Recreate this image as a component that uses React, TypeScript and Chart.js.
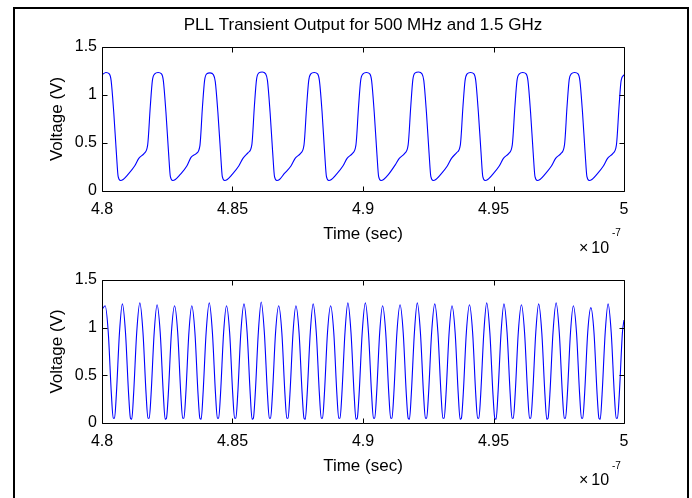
import React, { useEffect, useRef } from "react";
import { Chart, registerables } from "chart.js";

Chart.register(...registerables);

const FONT = "'Liberation Sans', Arial, Helvetica, sans-serif";

const titleText = "PLL Transient Output for 500 MHz and 1.5 GHz";
const xLabel = "Time (sec)";
const yLabel = "Voltage (V)";
const exponentBase = "×";
const exponentMantissa = "10";
const exponentPower = "-7";

const xTickValues = [4.8, 4.85, 4.9, 4.95, 5];
const yTickValues = [0, 0.5, 1, 1.5];

// 500 MHz output (time in units of 1e-7 s, voltage in V)
const topTime = [
  4.8000, 4.8015, 4.8028, 4.8035, 4.8045, 4.8055, 4.8062, 4.8071, 4.8081, 4.8099, 4.8125, 4.8141, 4.8161, 4.8175, 4.8185, 4.8193,
  4.8202, 4.8215, 4.8228, 4.8235, 4.8245, 4.8255, 4.8262, 4.8271, 4.8281, 4.8299, 4.8325, 4.8341, 4.8361, 4.8375, 4.8385, 4.8393,
  4.8401, 4.8414, 4.8427, 4.8434, 4.8444, 4.8454, 4.8461, 4.8470, 4.8480, 4.8498, 4.8524, 4.8540, 4.8560, 4.8574, 4.8584, 4.8592,
  4.8601, 4.8614, 4.8627, 4.8634, 4.8644, 4.8654, 4.8661, 4.8670, 4.8680, 4.8698, 4.8724, 4.8740, 4.8760, 4.8774, 4.8784, 4.8792,
  4.8800, 4.8813, 4.8826, 4.8833, 4.8843, 4.8853, 4.8860, 4.8869, 4.8879, 4.8897, 4.8923, 4.8939, 4.8959, 4.8973, 4.8983, 4.8991,
  4.9000, 4.9013, 4.9026, 4.9033, 4.9043, 4.9053, 4.9060, 4.9069, 4.9079, 4.9097, 4.9123, 4.9139, 4.9159, 4.9173, 4.9183, 4.9191,
  4.9200, 4.9213, 4.9226, 4.9233, 4.9243, 4.9253, 4.9260, 4.9269, 4.9279, 4.9297, 4.9323, 4.9339, 4.9359, 4.9373, 4.9383, 4.9391,
  4.9399, 4.9412, 4.9425, 4.9432, 4.9442, 4.9452, 4.9459, 4.9468, 4.9478, 4.9496, 4.9522, 4.9538, 4.9558, 4.9572, 4.9582, 4.9590,
  4.9599, 4.9612, 4.9625, 4.9632, 4.9642, 4.9652, 4.9659, 4.9668, 4.9678, 4.9696, 4.9722, 4.9738, 4.9758, 4.9772, 4.9782, 4.9790,
  4.9798, 4.9811, 4.9824, 4.9831, 4.9841, 4.9851, 4.9858, 4.9867, 4.9877, 4.9895, 4.9921, 4.9937, 4.9957, 4.9971, 4.9981, 4.9989,
  5.0000,
];
const topVolt = [
  1.21, 1.235, 1.22, 1.15, 0.82, 0.40, 0.15, 0.11, 0.12, 0.17, 0.26, 0.34, 0.39, 0.48, 0.88, 1.15,
  1.22, 1.235, 1.22, 1.15, 0.82, 0.40, 0.15, 0.11, 0.12, 0.17, 0.26, 0.35, 0.39, 0.47, 0.88, 1.15,
  1.22, 1.23, 1.21, 1.14, 0.82, 0.41, 0.15, 0.11, 0.12, 0.17, 0.26, 0.34, 0.40, 0.48, 0.89, 1.16,
  1.23, 1.24, 1.22, 1.15, 0.82, 0.40, 0.15, 0.11, 0.12, 0.18, 0.26, 0.34, 0.39, 0.48, 0.88, 1.15,
  1.22, 1.235, 1.22, 1.15, 0.83, 0.40, 0.15, 0.11, 0.12, 0.17, 0.26, 0.34, 0.39, 0.48, 0.88, 1.15,
  1.22, 1.235, 1.22, 1.15, 0.82, 0.40, 0.15, 0.11, 0.12, 0.17, 0.27, 0.34, 0.39, 0.48, 0.88, 1.16,
  1.23, 1.24, 1.22, 1.15, 0.82, 0.40, 0.15, 0.11, 0.12, 0.17, 0.26, 0.34, 0.40, 0.48, 0.88, 1.15,
  1.22, 1.235, 1.22, 1.15, 0.82, 0.41, 0.15, 0.11, 0.12, 0.17, 0.26, 0.34, 0.39, 0.48, 0.88, 1.15,
  1.22, 1.235, 1.22, 1.15, 0.82, 0.40, 0.15, 0.11, 0.12, 0.17, 0.26, 0.34, 0.39, 0.48, 0.89, 1.16,
  1.22, 1.235, 1.22, 1.15, 0.82, 0.40, 0.15, 0.11, 0.12, 0.17, 0.26, 0.34, 0.39, 0.48, 0.88, 1.15,
  1.21,
];

// 1.5 GHz output (time in units of 1e-7 s, voltage in V)
const bottomTime = [
  4.8000,
  4.8012, 4.8024, 4.8036, 4.8043, 4.8048, 4.8055, 4.8067,
  4.8078, 4.8090, 4.8102, 4.8109, 4.8114, 4.8121, 4.8133,
  4.8145, 4.8157, 4.8169, 4.8176, 4.8181, 4.8188, 4.8200,
  4.8211, 4.8223, 4.8235, 4.8242, 4.8247, 4.8254, 4.8266,
  4.8278, 4.8290, 4.8302, 4.8309, 4.8314, 4.8321, 4.8333,
  4.8344, 4.8356, 4.8368, 4.8375, 4.8380, 4.8387, 4.8399,
  4.8411, 4.8423, 4.8435, 4.8442, 4.8447, 4.8454, 4.8466,
  4.8477, 4.8489, 4.8501, 4.8508, 4.8513, 4.8520, 4.8532,
  4.8544, 4.8556, 4.8568, 4.8575, 4.8580, 4.8587, 4.8599,
  4.8610, 4.8622, 4.8634, 4.8641, 4.8646, 4.8653, 4.8665,
  4.8677, 4.8689, 4.8701, 4.8708, 4.8713, 4.8720, 4.8732,
  4.8743, 4.8755, 4.8767, 4.8774, 4.8779, 4.8786, 4.8798,
  4.8809, 4.8821, 4.8833, 4.8840, 4.8845, 4.8852, 4.8864,
  4.8876, 4.8888, 4.8900, 4.8907, 4.8912, 4.8919, 4.8931,
  4.8942, 4.8954, 4.8966, 4.8973, 4.8978, 4.8985, 4.8997,
  4.9009, 4.9021, 4.9033, 4.9040, 4.9045, 4.9052, 4.9064,
  4.9075, 4.9087, 4.9099, 4.9106, 4.9111, 4.9118, 4.9130,
  4.9142, 4.9154, 4.9166, 4.9173, 4.9178, 4.9185, 4.9197,
  4.9208, 4.9220, 4.9232, 4.9239, 4.9244, 4.9251, 4.9263,
  4.9275, 4.9287, 4.9299, 4.9306, 4.9311, 4.9318, 4.9330,
  4.9341, 4.9353, 4.9365, 4.9372, 4.9377, 4.9384, 4.9396,
  4.9408, 4.9420, 4.9432, 4.9439, 4.9444, 4.9451, 4.9463,
  4.9474, 4.9486, 4.9498, 4.9505, 4.9510, 4.9517, 4.9529,
  4.9540, 4.9552, 4.9564, 4.9571, 4.9576, 4.9583, 4.9595,
  4.9607, 4.9619, 4.9631, 4.9638, 4.9643, 4.9650, 4.9662,
  4.9673, 4.9685, 4.9697, 4.9704, 4.9709, 4.9716, 4.9728,
  4.9740, 4.9752, 4.9764, 4.9771, 4.9776, 4.9783, 4.9795,
  4.9806, 4.9818, 4.9830, 4.9837, 4.9842, 4.9849, 4.9861,
  4.9873, 4.9885, 4.9897, 4.9904, 4.9909, 4.9916, 4.9928,
  4.9939, 4.9951, 4.9963, 4.9970, 4.9975, 4.9982, 4.9994,
  5.0000,
];
const bottomVolt = [
  1.19,
  1.23, 0.95, 0.30, 0.05, 0.05, 0.30, 0.95,
  1.25, 0.95, 0.30, 0.05, 0.04, 0.30, 0.95,
  1.26, 0.95, 0.30, 0.05, 0.05, 0.30, 0.95,
  1.24, 0.95, 0.30, 0.04, 0.05, 0.30, 0.95,
  1.23, 0.95, 0.30, 0.05, 0.05, 0.30, 0.95,
  1.23, 0.95, 0.30, 0.05, 0.04, 0.30, 0.95,
  1.26, 0.95, 0.30, 0.05, 0.05, 0.30, 0.95,
  1.23, 0.95, 0.30, 0.05, 0.05, 0.30, 0.95,
  1.25, 0.95, 0.30, 0.04, 0.05, 0.30, 0.95,
  1.27, 0.95, 0.30, 0.05, 0.05, 0.30, 0.95,
  1.23, 0.95, 0.30, 0.05, 0.05, 0.30, 0.95,
  1.23, 0.95, 0.30, 0.05, 0.04, 0.30, 0.95,
  1.25, 0.95, 0.30, 0.05, 0.05, 0.30, 0.95,
  1.23, 0.95, 0.30, 0.05, 0.05, 0.30, 0.95,
  1.26, 0.95, 0.30, 0.04, 0.05, 0.30, 0.95,
  1.26, 0.95, 0.30, 0.05, 0.05, 0.30, 0.95,
  1.23, 0.95, 0.30, 0.05, 0.05, 0.30, 0.95,
  1.24, 0.95, 0.30, 0.05, 0.04, 0.30, 0.95,
  1.26, 0.95, 0.30, 0.05, 0.05, 0.30, 0.95,
  1.25, 0.95, 0.30, 0.05, 0.05, 0.30, 0.95,
  1.23, 0.95, 0.30, 0.04, 0.05, 0.30, 0.95,
  1.24, 0.95, 0.30, 0.05, 0.05, 0.30, 0.95,
  1.26, 0.95, 0.30, 0.05, 0.04, 0.30, 0.95,
  1.25, 0.95, 0.30, 0.05, 0.05, 0.30, 0.95,
  1.24, 0.95, 0.30, 0.05, 0.05, 0.30, 0.95,
  1.25, 0.95, 0.30, 0.04, 0.05, 0.30, 0.95,
  1.26, 0.95, 0.30, 0.05, 0.05, 0.30, 0.95,
  1.23, 0.95, 0.30, 0.05, 0.05, 0.30, 0.95,
  1.21, 0.95, 0.30, 0.05, 0.04, 0.30, 0.95,
  1.25, 0.95, 0.30, 0.05, 0.05, 0.30, 0.95,
  1.08,
];

const matlabAxes = {
  id: "matlabAxes",
  afterDatasetsDraw(chart: any) {
    const { ctx, chartArea: a, scales } = chart;
    const L = 5;
    const l = Math.round(a.left) + 0.5;
    const r = Math.round(a.right) + 0.5;
    const t = Math.round(a.top) + 0.5;
    const b = Math.round(a.bottom) + 0.5;
    ctx.save();
    ctx.strokeStyle = "#000";
    ctx.lineWidth = 1;
    ctx.beginPath();
    ctx.moveTo(l, t);
    ctx.lineTo(r, t);
    ctx.lineTo(r, b);
    ctx.lineTo(l, b);
    ctx.closePath();
    for (const tk of scales.x.ticks) {
      const px = Math.round(scales.x.getPixelForValue(tk.value)) + 0.5;
      ctx.moveTo(px, b);
      ctx.lineTo(px, b - L);
      ctx.moveTo(px, t);
      ctx.lineTo(px, t + L);
    }
    for (const tk of scales.y.ticks) {
      const py = Math.round(scales.y.getPixelForValue(tk.value)) + 0.5;
      ctx.moveTo(l, py);
      ctx.lineTo(l + L, py);
      ctx.moveTo(r, py);
      ctx.lineTo(r - L, py);
    }
    ctx.stroke();
    ctx.restore();
  },
};

type PanelOpts = {
  times: number[];
  volts: number[];
  showTitle: boolean;
  padTop: number;
  xHeight: number;
  xTickPad: number;
  xTitlePadBottom: number;
};

function makeConfig(o: PanelOpts): any {
  const tickFont = { family: FONT, size: 16, weight: "normal" as const };
  const labelFont = { family: FONT, size: 17, weight: "normal" as const };
  return {
    type: "line",
    data: {
      datasets: [
        {
          data: o.times.map((x, i) => ({ x, y: o.volts[i] })),
          borderColor: "rgb(0,0,255)",
          borderWidth: 1.1,
          pointRadius: 0,
          fill: false,
          cubicInterpolationMode: "monotone",
        },
      ],
    },
    options: {
      responsive: false,
      animation: false,
      devicePixelRatio: 1,
      layout: { padding: { left: 0, right: 68, top: o.padTop, bottom: 0 } },
      plugins: {
        legend: { display: false },
        tooltip: { enabled: false },
        title: o.showTitle
          ? {
              display: true,
              text: titleText,
              color: "#000",
              font: labelFont,
              fullSize: false,
              padding: { top: 14.8, bottom: 11.8 },
            }
          : { display: false },
      },
      scales: {
        x: {
          type: "linear",
          min: xTickValues[0],
          max: xTickValues[xTickValues.length - 1],
          afterBuildTicks: (s: any) => {
            s.ticks = xTickValues.map((v) => ({ value: v }));
          },
          afterFit: (s: any) => {
            s.height = o.xHeight;
          },
          grid: { display: false, drawTicks: false },
          border: { display: false },
          ticks: {
            color: "#000",
            font: tickFont,
            padding: o.xTickPad,
            maxRotation: 0,
            autoSkip: false,
            callback: (v: number) => String(Math.round(v * 100) / 100),
          },
          title: {
            display: true,
            text: xLabel,
            color: "#000",
            font: labelFont,
            padding: { top: 0, bottom: o.xTitlePadBottom },
          },
        },
        y: {
          type: "linear",
          min: yTickValues[0],
          max: yTickValues[yTickValues.length - 1],
          afterBuildTicks: (s: any) => {
            s.ticks = yTickValues.map((v) => ({ value: v }));
          },
          afterFit: (s: any) => {
            s.width = 102;
          },
          grid: { display: false, drawTicks: false },
          border: { display: false },
          ticks: {
            color: "#000",
            font: tickFont,
            padding: 5,
            autoSkip: false,
            callback: (v: number) => String(Math.round(v * 100) / 100),
          },
          title: {
            display: true,
            text: yLabel,
            color: "#000",
            font: labelFont,
            padding: { top: 46.8, bottom: 0 },
          },
        },
      },
    },
    plugins: [matlabAxes],
  };
}

function Exponent({ top, supTop }: { top: number; supTop: number }) {
  return (
    <>
      <div
        style={{
          position: "absolute",
          left: 579,
          top,
          font: `16px ${FONT}`,
          lineHeight: "16px",
          color: "#000",
          whiteSpace: "nowrap",
        }}
      >
        {exponentBase}
        <span style={{ marginLeft: 3 }}>{exponentMantissa}</span>
      </div>
      <div
        style={{
          position: "absolute",
          left: 612,
          top: supTop,
          font: `10px ${FONT}`,
          lineHeight: "10px",
          color: "#000",
          whiteSpace: "nowrap",
        }}
      >
        {exponentPower}
      </div>
    </>
  );
}

export default function App() {
  const topRef = useRef<HTMLCanvasElement | null>(null);
  const bottomRef = useRef<HTMLCanvasElement | null>(null);

  useEffect(() => {
    const c1 = new Chart(
      topRef.current as HTMLCanvasElement,
      makeConfig({
        times: topTime,
        volts: topVolt,
        showTitle: true,
        padTop: 0,
        xHeight: 69,
        xTickPad: 9,
        xTitlePadBottom: 15.8,
      })
    );
    const c2 = new Chart(
      bottomRef.current as HTMLCanvasElement,
      makeConfig({
        times: bottomTime,
        volts: bottomVolt,
        showTitle: false,
        padTop: 20,
        xHeight: 75,
        xTickPad: 9,
        xTitlePadBottom: 21.8,
      })
    );
    return () => {
      c1.destroy();
      c2.destroy();
    };
  }, []);

  return (
    <div
      style={{
        position: "absolute",
        left: 0,
        top: 0,
        width: 692,
        height: 498,
        overflow: "hidden",
        background: "#fff",
      }}
    >
      <div
        style={{
          position: "absolute",
          left: 13,
          top: 7,
          width: 672,
          height: 600,
          border: "2px solid #000",
        }}
      />
      <canvas
        ref={topRef}
        width={692}
        height={260}
        style={{ position: "absolute", left: 0, top: 0, width: 692, height: 260 }}
      />
      <canvas
        ref={bottomRef}
        width={692}
        height={238}
        style={{ position: "absolute", left: 0, top: 260, width: 692, height: 238 }}
      />
      <Exponent top={240} supTop={228} />
      <Exponent top={472} supTop={461} />
    </div>
  );
}
